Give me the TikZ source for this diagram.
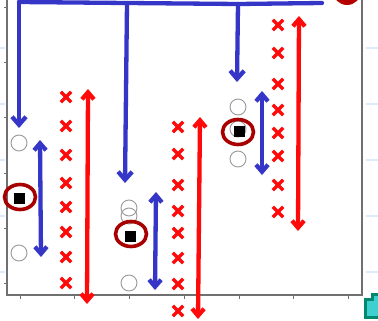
\documentclass[tikz,border=0pt]{standalone}
\usetikzlibrary{arrows.meta,shapes.misc,shapes.geometric}
\definecolor{myblue}{HTML}{3535C8}
\definecolor{myred}{HTML}{FF0A0A}
\definecolor{ringred}{HTML}{A80000}
\definecolor{gridblue}{HTML}{DCEBFA}
\definecolor{axisgray}{HTML}{707070}
\definecolor{tealdark}{HTML}{00896E}
\definecolor{tealfill}{HTML}{3ECFD0}
\tikzset{
  blueline/.style={draw=myblue,line width=4.3pt,line cap=round,line join=round},
  redline/.style={draw=myred,line width=4.3pt,line cap=round,line join=round},
  onetip/.style={-{Straight Barb[length=8pt,width=14pt]}},
  twotip/.style={{Straight Barb[length=7pt,width=12pt]}-{Straight Barb[length=7pt,width=12pt]}},
  xmark/.style={cross out,draw=myred,line width=3.3pt,minimum size=7pt,inner sep=0pt},
  ghost/.style={circle,draw=gray!80,line width=0.9pt,minimum size=16pt,inner sep=0pt},
  bsq/.style={fill=black,minimum size=11pt,inner sep=0pt},
  ring/.style={ellipse,draw=ringred,line width=3.6pt,minimum width=31pt,minimum height=25pt,inner sep=0pt},
  axis/.style={draw=axisgray,line width=1.1pt},
  tick/.style={draw=axisgray,line width=0.8pt},
  stub/.style={draw=gridblue,line width=1.5pt}
}
\begin{document}
\begin{tikzpicture}[x=1pt,y=-1pt]
\useasboundingbox (0,0) rectangle (378,321);
\fill[white] (0,0) rectangle (378,321);
% grid stubs
\foreach \yy in {48,104,160,216,272}{
  \draw[stub] (0,\yy) -- (5,\yy);
  \draw[stub] (366,\yy) -- (378,\yy);
}
% frame
\coordinate (fl) at (7,0);
\coordinate (bl) at (7,295);
\coordinate (br) at (362,295);
\coordinate (fr) at (362,0);
\draw[axis] (fl) -- (bl) -- (br) -- (fr);
\foreach \yy in {7,62,117,173,228,283}{ \draw[tick] (4,\yy) -- (7,\yy); }
\foreach \xx in {20,74,129,184,239,293,348}{ \draw[tick] (\xx,295) -- (\xx,299); }
% top-right dark red blob
\fill[ringred!85!red] (347,-9) circle (14);
% teal arrow
\draw[tealdark,line width=3pt,fill=tealfill] (365,299) -- (372,299) -- (372,294) -- (380,294) -- (380,317) -- (365,317) -- cycle;
% gray circles
\node[ghost] (c1) at (19,143) {};
\node[ghost] (c2) at (19,253) {};
\node[ghost] (c3) at (129,208) {};
\node[ghost] (c4) at (129,216) {};
\node[ghost] (c5) at (129,283) {};
\node[ghost] (c6) at (238,107) {};
\node[ghost] (c7) at (238,129) {};
\node[ghost] (c8) at (238,159) {};
% black squares with rings
\node[bsq] (s1) at (19,198) {};
\node[ring] (r1) at (20,197) {};
\node[bsq] (s2) at (130,236) {};
\node[ring] (r2) at (131,234) {};
\node[bsq] (s3) at (239,132) {};
\node[ring] (r3) at (238,132) {};
% blue tree from top
\coordinate (tl) at (19,2);
\coordinate (tm) at (127,3);
\coordinate (tr2) at (238,4);
\coordinate (te) at (322,3);
\coordinate (a1) at (19,128);
\coordinate (a2) at (125,183);
\coordinate (a3) at (237,82);
\draw[blueline] (tl) -- (tm) -- (tr2) -- (te);
\draw[blueline,onetip] (tl) -- (a1);
\draw[blueline,onetip] (tm) -- (a2);
\draw[blueline,onetip] (tr2) -- (a3);
% blue double arrows
\coordinate (b1t) at (40,140);
\coordinate (b1b) at (41,257);
\coordinate (b2t) at (156,192);
\coordinate (b2b) at (155,290);
\coordinate (b3t) at (262,91);
\coordinate (b3b) at (262,175);
\draw[blueline,twotip] (b1t) -- (b1b);
\draw[blueline,twotip] (b2t) -- (b2b);
\draw[blueline,twotip] (b3t) -- (b3b);
% red double arrows
\coordinate (q1t) at (88,89);
\coordinate (q1b) at (87,304);
\coordinate (q2t) at (200,117);
\coordinate (q2b) at (198,319);
\coordinate (q3t) at (299,16);
\coordinate (q3b) at (298,231);
\draw[redline,twotip] (q1t) -- (q1b);
\draw[redline,twotip] (q2t) -- (q2b);
\draw[redline,twotip] (q3t) -- (q3b);
% red crosses
\foreach \yy [count=\i] in {97,126,155,183,207,232,257,283}{ \node[xmark] (xa\i) at (66,\yy) {}; }
\foreach \yy [count=\i] in {127,154,185,211,233,258,284,311}{ \node[xmark] (xb\i) at (178,\yy) {}; }
\foreach \yy [count=\i] in {25,53,84,110,133,156,185,212}{ \node[xmark] (xc\i) at (278,\yy) {}; }
\end{tikzpicture}
\end{document}
